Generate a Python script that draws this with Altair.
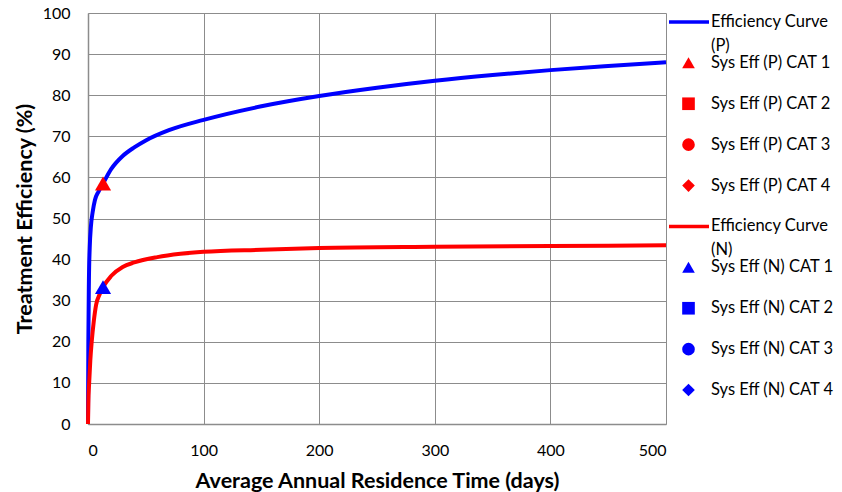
import altair as alt
import pandas as pd

# Efficiency curve (P)
days_p = [0, 0.3, 0.8, 1.5, 2.5, 4, 6, 9, 13, 20, 30, 40, 50, 70, 100, 150, 200, 250, 300, 350, 400, 450, 500]
eff_p = [0, 20, 35, 43, 48, 51.5, 54.5, 56.5, 58.5, 62, 65.2, 67.3, 69, 71.5, 74, 77.3, 79.8, 81.8, 83.5, 84.9, 86.1, 87.1, 88]

# Efficiency curve (N)
days_n = [0, 0.3, 1, 2, 3.2, 5, 7, 10, 13, 20, 30, 40, 60, 80, 100, 150, 200, 300, 400, 500]
eff_n = [0, 5, 10, 15.5, 20, 25, 29, 31.5, 33.3, 36, 38.2, 39.3, 40.6, 41.4, 41.9, 42.4, 42.8, 43.1, 43.3, 43.5]

# System efficiency points
pt_series = ["Sys Eff (P) CAT 1", "Sys Eff (N) CAT 1"]
pt_days = [13, 13]
pt_eff = [58.5, 33.3]
pt_colors = ["#FF0000", "#0000FF"]

# Legend entries
legend_names = ["Efficiency Curve (P)", "Sys Eff (P) CAT 1", "Sys Eff (P) CAT 2", "Sys Eff (P) CAT 3",
                "Sys Eff (P) CAT 4", "Efficiency Curve (N)", "Sys Eff (N) CAT 1", "Sys Eff (N) CAT 2",
                "Sys Eff (N) CAT 3", "Sys Eff (N) CAT 4"]
legend_labels = ["Efficiency Curve\n(P)", "Sys Eff (P) CAT 1", "Sys Eff (P) CAT 2", "Sys Eff (P) CAT 3",
                 "Sys Eff (P) CAT 4", "Efficiency Curve\n(N)", "Sys Eff (N) CAT 1", "Sys Eff (N) CAT 2",
                 "Sys Eff (N) CAT 3", "Sys Eff (N) CAT 4"]
legend_colors = ["#0000FF", "#FF0000", "#FF0000", "#FF0000", "#FF0000",
                 "#FF0000", "#0000FF", "#0000FF", "#0000FF", "#0000FF"]
legend_kinds = ["line", "point", "point", "point", "point", "line", "point", "point", "point", "point"]
legend_shapes = ["circle", "triangle-up", "square", "circle", "diamond",
                 "circle", "triangle-up", "square", "circle", "diamond"]

x_ticks = [0, 100, 200, 300, 400, 500]
y_ticks = [0, 10, 20, 30, 40, 50, 60, 70, 80, 90, 100]

df_p = pd.DataFrame({"days": days_p, "eff": eff_p})
df_n = pd.DataFrame({"days": days_n, "eff": eff_n})
df_pts = pd.DataFrame({"series": pt_series, "days": pt_days, "eff": pt_eff})
df_leg = pd.DataFrame({"name": legend_names, "label": legend_labels, "color": legend_colors,
                       "kind": legend_kinds, "shape": legend_shapes})

x_enc = alt.X("days:Q", scale=alt.Scale(domain=[0, 500], nice=False),
              axis=alt.Axis(values=x_ticks, title="Average Annual Residence Time (days)",
                            titleY=57, titleBaseline="middle", labelPadding=18))
y_enc = alt.Y("eff:Q", scale=alt.Scale(domain=[0, 100], nice=False),
              axis=alt.Axis(values=y_ticks, title="Treatment Efficiency (%)",
                            titleX=-62.5, titleBaseline="middle", labelPadding=18))

line_p = alt.Chart(df_p).mark_line(strokeWidth=4, interpolate="monotone", color="#0000FF").encode(x=x_enc, y=y_enc)
line_n = alt.Chart(df_n).mark_line(strokeWidth=4, interpolate="monotone", color="#FF0000").encode(x=x_enc, y=y_enc)
pts = alt.Chart(df_pts).mark_point(filled=True, size=260, opacity=1, shape="triangle-up").encode(
    x="days:Q", y="eff:Q",
    color=alt.Color("series:N", scale=alt.Scale(domain=pt_series, range=pt_colors), legend=None))

main = alt.layer(line_p, line_n, pts)

leg_y = alt.Y("name:N", scale=alt.Scale(domain=legend_names, range=[-11.5, 397.5]), axis=None)
leg_line = alt.Chart(df_leg).transform_filter(alt.datum.kind == "line").mark_rule(strokeWidth=3.5).encode(
    x=alt.value(581), x2=alt.value(621), y=leg_y, color=alt.Color("color:N", scale=None))
leg_pts = alt.Chart(df_leg).transform_filter(alt.datum.kind == "point").mark_point(
    filled=True, size=160, opacity=1).encode(
    x=alt.value(600.5), y=leg_y, shape=alt.Shape("shape:N", scale=None), color=alt.Color("color:N", scale=None))
leg_text = alt.Chart(df_leg).mark_text(align="left", baseline="top", dy=-8, lineBreak="\n", lineHeight=24,
                                       fontSize=16.5, font="Lato", color="#000000").encode(
    x=alt.value(623), y=leg_y, text="label:N")

legend = alt.layer(leg_line, leg_pts, leg_text)

chart = alt.layer(main, legend).resolve_scale(
    y="independent", color="independent", shape="independent"
).properties(
    width=578, height=411, autosize="none",
    padding={"left": 80, "top": 5, "right": 168, "bottom": 68}
).configure_view(stroke=None).configure_axis(
    labelFont="Lato", labelFontSize=16, labelColor="#000000",
    titleFont="Lato", titleFontSize=21.5, titleFontWeight="bold", titleColor="#000000",
    gridColor="#8c8c8c", gridWidth=1, domainColor="#8c8c8c", domainWidth=1.5,
    ticks=False, tickSize=0, grid=True
)

chart.save("out.html", embed_options={"renderer": "svg", "actions": False})
